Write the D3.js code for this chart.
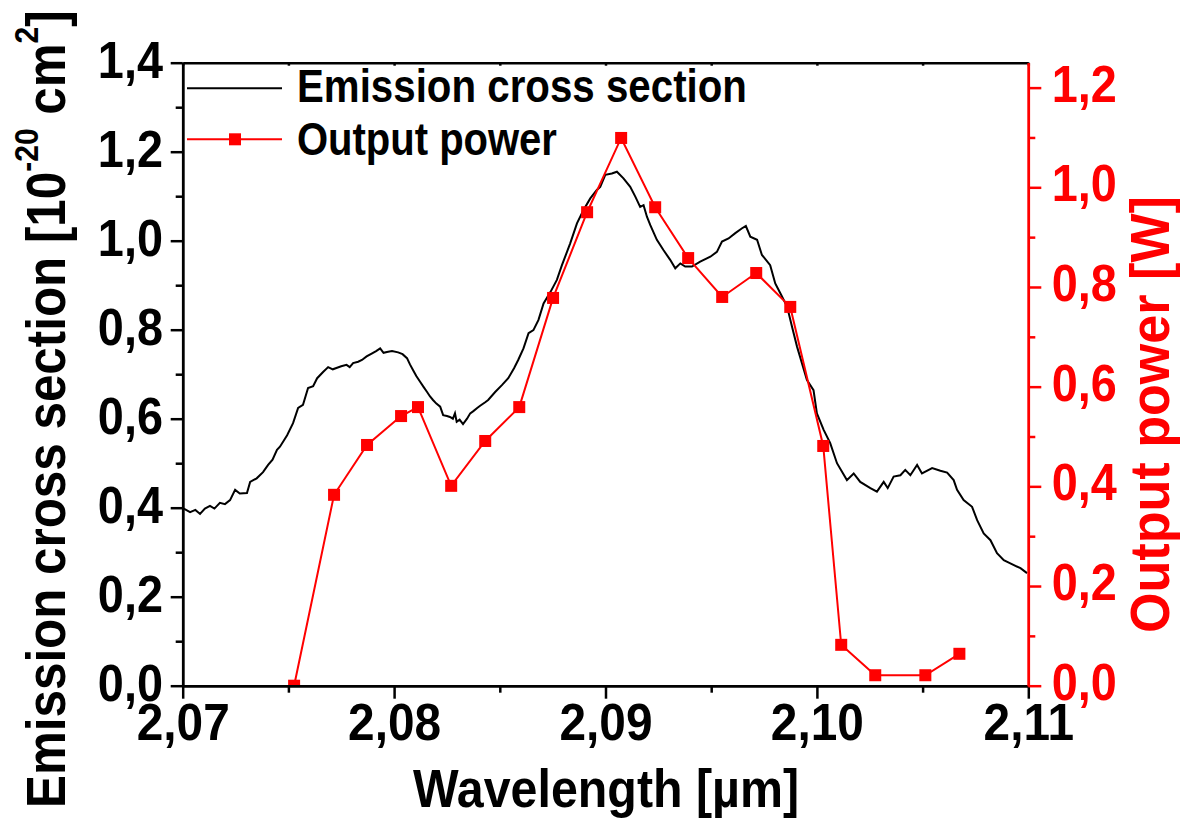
<!DOCTYPE html>
<html lang="en">

<head>
  <meta charset="UTF-8">
  <title>Emission cross section and output power</title>
  <style>
    body {
      margin: 0;
      background: #fff;
    }

    svg {
      display: block;
      font-family: "Liberation Sans", Arial, sans-serif;
      font-weight: bold;
    }

    .axis path,
    .axis line {
      stroke-width: 2.5;
    }

    .axis text {
      font-size: 52px;
      font-family: "Liberation Sans", Arial, sans-serif;
      font-weight: bold;
    }

    .cross {
      fill: none;
      stroke: #000;
      stroke-width: 2;
    }

    .power {
      fill: none;
      stroke: #ff0000;
      stroke-width: 2;
    }

    .marker {
      fill: #ff0000;
    }
  </style>
</head>

<body>
  <div id="chart"></div>

  <script src="https://cdnjs.cloudflare.com/ajax/libs/d3/7.8.5/d3.min.js"></script>

  <script>
    // emission cross section curve
    const crossWl = [
      2.07001, 2.07035, 2.07060, 2.07082, 2.07105, 2.07129, 2.07150, 2.07176, 2.07200, 2.07224,
      2.07248, 2.07270, 2.07304, 2.07319, 2.07350, 2.07380, 2.07404, 2.07425, 2.07446, 2.07460,
      2.07494, 2.07522, 2.07546, 2.07569, 2.07593, 2.07617, 2.07636, 2.07664, 2.07688, 2.07710,
      2.07727, 2.07750, 2.07775, 2.07790, 2.07806, 2.07830, 2.07848, 2.07870, 2.07896, 2.07915,
      2.07934, 2.07950, 2.07966, 2.07990, 2.08019, 2.08040, 2.08061, 2.08075, 2.08090, 2.08105,
      2.08123, 2.08140, 2.08156, 2.08170, 2.08184, 2.08200, 2.08218, 2.08232, 2.08250, 2.08264,
      2.08278, 2.08288, 2.08296, 2.08310, 2.08326, 2.08345, 2.08360, 2.08375, 2.08393, 2.08407,
      2.08431, 2.08445, 2.08478, 2.08511, 2.08540, 2.08568, 2.08587, 2.08612, 2.08636, 2.08659,
      2.08683, 2.08707, 2.08740, 2.08770, 2.08794, 2.08833, 2.08865, 2.08896, 2.08928, 2.08959,
      2.08975, 2.08999, 2.09030, 2.09054, 2.09085, 2.09117, 2.09141, 2.09164, 2.09180, 2.09196,
      2.09212, 2.09243, 2.09274, 2.09306, 2.09330, 2.09354, 2.09377, 2.09409, 2.09448, 2.09496,
      2.09527, 2.09551, 2.09582, 2.09614, 2.09646, 2.09664, 2.09685, 2.09717, 2.09740, 2.09779,
      2.09803, 2.09827, 2.09859, 2.09882, 2.09906, 2.09953, 2.09984, 2.10000, 2.10032, 2.10063,
      2.10095, 2.10142, 2.10174, 2.10205, 2.10253, 2.10284, 2.10316, 2.10335, 2.10363, 2.10395,
      2.10418, 2.10442, 2.10474, 2.10497, 2.10529, 2.10545, 2.10584, 2.10616, 2.10647, 2.10663,
      2.10694, 2.10734, 2.10758, 2.10789, 2.10821, 2.10852, 2.10884, 2.10915, 2.10963, 2.10994
    ];
    const crossSection = [
      0.399, 0.390, 0.395, 0.386, 0.398, 0.404, 0.398, 0.411, 0.408, 0.417,
      0.440, 0.432, 0.433, 0.458, 0.466, 0.480, 0.496, 0.508, 0.530, 0.537,
      0.563, 0.590, 0.624, 0.631, 0.669, 0.673, 0.691, 0.705, 0.716, 0.711,
      0.714, 0.718, 0.721, 0.716, 0.725, 0.728, 0.732, 0.740, 0.747, 0.752,
      0.758, 0.748, 0.750, 0.752, 0.749, 0.745, 0.736, 0.722, 0.709, 0.696,
      0.683, 0.671, 0.660, 0.650, 0.642, 0.634, 0.627, 0.608, 0.606, 0.604,
      0.600, 0.612, 0.593, 0.598, 0.588, 0.600, 0.612, 0.617, 0.624, 0.629,
      0.637, 0.642, 0.660, 0.676, 0.691, 0.714, 0.732, 0.758, 0.792, 0.799,
      0.822, 0.859, 0.885, 0.912, 0.945, 0.994, 1.039, 1.069, 1.095, 1.114,
      1.121, 1.148, 1.151, 1.155, 1.140, 1.121, 1.099, 1.076, 1.080, 1.054,
      1.035, 1.002, 0.979, 0.957, 0.938, 0.949, 0.942, 0.942, 0.953, 0.964,
      0.975, 0.998, 1.005, 1.017, 1.028, 1.033, 1.009, 1.002, 0.968, 0.945,
      0.904, 0.882, 0.852, 0.807, 0.762, 0.687, 0.664, 0.612, 0.575, 0.545,
      0.500, 0.462, 0.477, 0.458, 0.444, 0.436, 0.458, 0.444, 0.470, 0.473,
      0.485, 0.473, 0.496, 0.477, 0.485, 0.489, 0.483, 0.479, 0.462, 0.440,
      0.417, 0.402, 0.372, 0.342, 0.327, 0.298, 0.282, 0.275, 0.264, 0.253
    ];

    // output power points
    const powerWl = [
      2.07527, 2.07716, 2.07872, 2.08033, 2.08113, 2.08270, 2.08431, 2.08592, 2.08752, 2.08913,
      2.09074, 2.09235, 2.09391, 2.09552, 2.09713, 2.09874, 2.10030, 2.10115, 2.10276, 2.10513,
      2.10674
    ];
    const power = [
      0.000, 0.383, 0.483, 0.541, 0.559, 0.401, 0.491, 0.559, 0.778, 0.950,
      1.099, 0.960, 0.858, 0.780, 0.828, 0.760, 0.481, 0.082, 0.021, 0.021,
      0.064
    ];

    // ticks
    const xTicks = [2.07, 2.08, 2.09, 2.10, 2.11];
    const xMinor = [2.075, 2.085, 2.095, 2.105];
    const leftTicks = [0, 0.2, 0.4, 0.6, 0.8, 1.0, 1.2, 1.4];
    const leftMinor = [0.1, 0.3, 0.5, 0.7, 0.9, 1.1, 1.3];
    const rightTicks = [0, 0.2, 0.4, 0.6, 0.8, 1.0, 1.2];
    const rightMinor = [0.1, 0.3, 0.5, 0.7, 0.9, 1.1];

    (function () {

      const width = 1180;
      const height = 818;
      const left = 182.7, right = 1028.3, top = 62.7, bottom = 685.7;
      const red = '#ff0000';
      const comma = f => v => d3.format(f)(v).replace('.', ',');

      const x = d3.scaleLinear().domain([2.07, 2.11]).range([left, right]);
      const yL = d3.scaleLinear().domain([0, 1.4]).range([bottom, top]);
      const yR = d3.scaleLinear().domain([0, 1.25]).range([bottom, top]);

      const svg = d3.select('#chart')
        .append('svg')
        .attr('width', width)
        .attr('height', height);

      svg.append('clipPath')
        .attr('id', 'plot')
        .append('rect')
        .attr('x', left)
        .attr('y', top)
        .attr('width', right - left)
        .attr('height', bottom - top);

      const plot = svg.append('g').attr('clip-path', 'url(#plot)');

      // emission cross section
      const crossLine = d3.line()
        .x(d => x(d[0]))
        .y(d => yL(d[1]));
      plot.append('path')
        .datum(d3.zip(crossWl, crossSection))
        .classed('cross', true)
        .attr('d', crossLine);

      // output power
      const powerData = d3.zip(powerWl, power);
      const powerLine = d3.line()
        .x(d => x(d[0]))
        .y(d => yR(d[1]));
      plot.append('path')
        .datum(powerData)
        .classed('power', true)
        .attr('d', powerLine);

      plot.selectAll('.marker')
        .data(powerData)
        .enter()
        .append('rect')
        .classed('marker', true)
        .attr('x', d => x(d[0]) - 6)
        .attr('y', d => yR(d[1]) - 6)
        .attr('width', 12)
        .attr('height', 12);

      // axes
      const scaleText = (g, s) => g.selectAll('text').attr('transform', `scale(${s},1)`);

      svg.append('g')
        .attr('class', 'axis')
        .attr('transform', `translate(0,${top})`)
        .call(d3.axisTop(x).tickValues(xTicks.concat(xMinor)).tickSize(-3).tickSizeOuter(0).tickFormat(''))
        .call(g => g.selectAll('path, line').attr('stroke-width', 2));

      svg.append('g')
        .attr('class', 'axis')
        .attr('transform', `translate(0,${bottom})`)
        .call(d3.axisBottom(x).tickValues(xMinor).tickSize(7).tickSizeOuter(0).tickFormat(''));

      svg.append('g')
        .attr('class', 'axis')
        .attr('transform', `translate(0,${bottom})`)
        .call(d3.axisBottom(x).tickValues(xTicks).tickSize(13).tickPadding(4.5).tickSizeOuter(0).tickFormat(comma('.2f')))
        .call(g => scaleText(g, 0.92));

      svg.append('g')
        .attr('class', 'axis')
        .attr('transform', `translate(${left},0)`)
        .call(d3.axisLeft(yL).tickValues(leftMinor).tickSize(7).tickSizeOuter(0).tickFormat(''));

      svg.append('g')
        .attr('class', 'axis')
        .attr('transform', `translate(${left},0)`)
        .call(d3.axisLeft(yL).tickValues(leftTicks).tickSize(12).tickPadding(10).tickSizeOuter(0).tickFormat(comma('.1f')))
        .call(g => scaleText(g, 0.9))
        .call(g => g.selectAll('text').attr('dy', '0.28em'));

      svg.append('g')
        .attr('class', 'axis')
        .attr('color', red)
        .attr('transform', `translate(${right},0)`)
        .call(d3.axisRight(yR).tickValues(rightMinor).tickSize(7).tickSizeOuter(0).tickFormat(''));

      svg.append('g')
        .attr('class', 'axis')
        .attr('color', red)
        .attr('transform', `translate(${right},0)`)
        .call(d3.axisRight(yR).tickValues(rightTicks).tickSize(13).tickPadding(13).tickSizeOuter(0).tickFormat(comma('.1f')))
        .call(g => scaleText(g, 0.9))
        .call(g => g.selectAll('text').attr('dy', '0.26em'));

      // squeeze a text group so it spans a given width
      function fit(g, text, w, pos) {
        const len = text.node().getBBox().width;
        g.attr('transform', pos + ` scale(${w / len},1)`);
      }

      // axis titles
      const gx = svg.append('g');
      const tx = gx.append('text')
        .attr('font-size', 54)
        .text('Wavelength [µm]');
      fit(gx, tx, 386, 'translate(413,806.7)');

      const gyl = svg.append('g');
      const tyl = gyl.append('text').attr('font-size', 56);
      tyl.append('tspan').text('Emission cross section [10');
      tyl.append('tspan').attr('dy', -27).attr('font-size', 34).text('-20');
      tyl.append('tspan').attr('dy', 27).text(' cm');
      tyl.append('tspan').attr('dy', -27).attr('font-size', 34).text('2');
      tyl.append('tspan').attr('dy', 27).text(']');
      fit(gyl, tyl, 798, 'translate(65,808) rotate(-90)');

      const gyr = svg.append('g');
      const tyr = gyr.append('text')
        .attr('font-size', 55)
        .attr('fill', red)
        .text('Output power [W]');
      fit(gyr, tyr, 437, 'translate(1169,633) rotate(-90)');

      // legend
      const legend = svg.append('g');
      legend.append('line')
        .attr('x1', 187).attr('x2', 282)
        .attr('y1', 88.3).attr('y2', 88.3)
        .attr('stroke', '#000')
        .attr('stroke-width', 2);
      legend.append('line')
        .attr('x1', 187).attr('x2', 282)
        .attr('y1', 139.3).attr('y2', 139.3)
        .attr('stroke', red)
        .attr('stroke-width', 2);
      legend.append('rect')
        .classed('marker', true)
        .attr('x', 229).attr('y', 133.3)
        .attr('width', 12).attr('height', 12);

      const gl1 = legend.append('g');
      const tl1 = gl1.append('text').attr('font-size', 47).text('Emission cross section');
      fit(gl1, tl1, 450, 'translate(297,101.7)');

      const gl2 = legend.append('g');
      const tl2 = gl2.append('text').attr('font-size', 47).text('Output power');
      fit(gl2, tl2, 260, 'translate(297,155)');

    })();
  </script>
</body>

</html>
